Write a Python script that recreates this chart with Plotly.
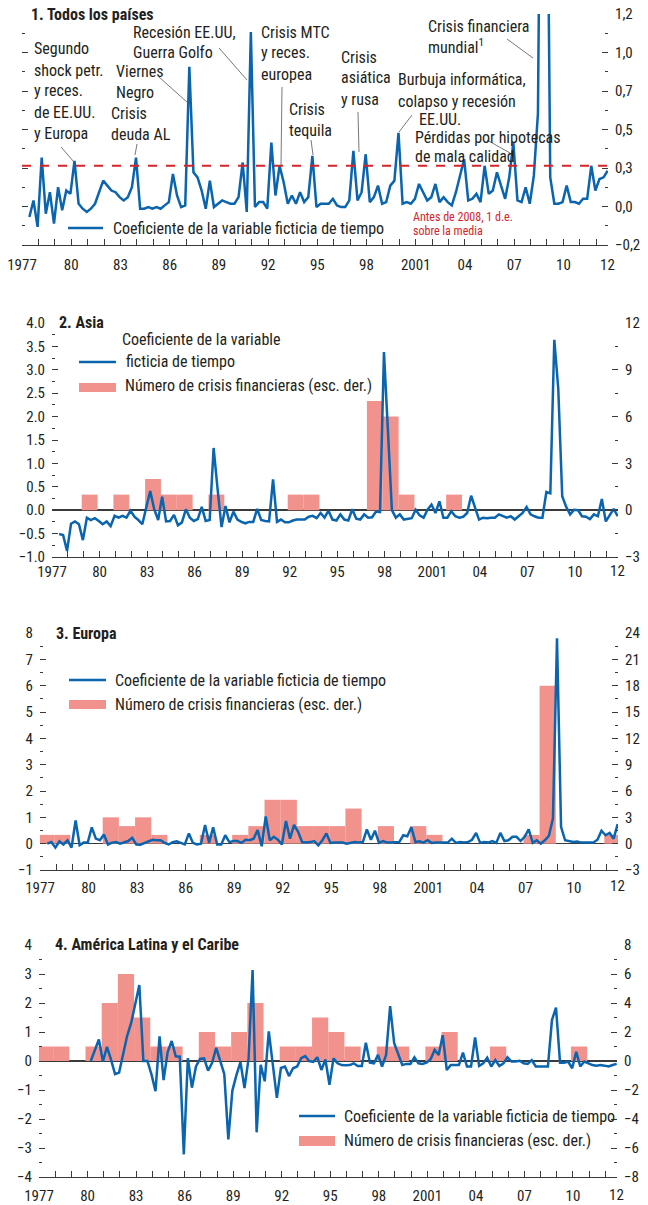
import numpy as np
import plotly.graph_objects as go

W, H = 648, 1205
def px(x): return x / W
def py(y): return 1 - y / H

FONT = "Liberation Sans Narrow, Arial Narrow, Roboto Condensed, DejaVu Sans Condensed, sans-serif"
BLUE = "#0A64AE"
PINK = "#F2928D"
RED = "#D6242B"
GRAY = "#3A3A3A"
TXT = "#231F20"
FS = 16

# ---------------- data (quarterly, first obs ~1977 Q2) ----------------
todos = [-0.03, 0.07, -0.09, 0.33, -0.01, 0.12, -0.07, 0.15, 0.01, 0.13, 0.11, 0.31, 0.05, 0.02, 0.00, 0.02,
         0.05, 0.12, 0.19, 0.16, 0.13, 0.12, 0.09, 0.07, 0.09, 0.15, 0.33, 0.02, 0.02, 0.03, 0.02, 0.03,
         0.02, 0.04, 0.06, 0.23, 0.10, 0.03, 0.04, 0.88, 0.24, 0.21, 0.13, 0.02, 0.19, 0.03, 0.05, 0.07,
         0.06, 0.05, 0.05, 0.09, 0.30, 0.00, 1.09, 0.03, 0.06, 0.06, 0.02, 0.42, 0.10, 0.28, 0.18, 0.05,
         0.10, 0.05, 0.12, 0.06, 0.09, 0.34, 0.03, 0.05, 0.05, 0.05, 0.08, 0.04, 0.03, 0.03, 0.07, 0.37,
         0.07, 0.12, 0.35, 0.06, 0.09, 0.16, 0.05, 0.06, 0.16, 0.19, 0.48, 0.05, 0.06, 0.05, 0.08, 0.17,
         0.12, 0.07, 0.09, 0.17, 0.06, 0.09, 0.06, 0.04, 0.12, 0.22, 0.32, 0.07, 0.08, 0.11, 0.06, 0.28,
         0.11, 0.13, 0.24, 0.16, 0.08, 0.21, 0.42, 0.07, 0.06, 0.15, 0.05, 0.22, 0.60, 3.50, 3.00, 0.21,
         0.05, 0.05, 0.06, 0.16, 0.06, 0.06, 0.05, 0.08, 0.08, 0.28, 0.13, 0.20, 0.21, 0.25]
umbral = 0.28  # antes de 2008, 1 d.e. sobre la media

asia = [-0.51, -0.53, -0.87, -0.29, -0.24, -0.30, -0.64, -0.16, -0.21, -0.17, -0.23, -0.30, -0.24, -0.34, -0.12, -0.16,
        -0.12, -0.16, -0.01, -0.14, -0.21, -0.30, 0.06, 0.41, 0.02, -0.21, 0.29, -0.24, -0.23, -0.10, -0.32, -0.26,
        0.02, -0.16, -0.23, -0.19, 0.07, -0.23, -0.21, 1.33, 0.45, -0.36, 0.09, -0.26, -0.03, -0.20, -0.25, -0.28,
        -0.25, -0.25, 0.03, -0.21, -0.23, -0.24, 0.66, -0.25, -0.20, -0.26, -0.26, -0.22, -0.20, -0.20, -0.20, -0.14,
        -0.12, -0.17, -0.06, -0.16, -0.01, -0.20, -0.22, -0.09, -0.20, -0.22, 0.02, -0.18, -0.20, -0.09, -0.16, -0.15,
        -0.03, -0.04, 3.38, 1.70, 0.00, -0.16, -0.09, -0.20, -0.19, -0.17, 0.01, -0.11, -0.16, 0.01, 0.12, -0.06,
        0.19, -0.16, -0.16, -0.02, -0.13, -0.16, -0.14, -0.06, 0.31, 0.05, -0.20, -0.16, -0.17, -0.16, -0.16, -0.09,
        -0.13, -0.16, -0.13, -0.20, -0.13, -0.06, 0.07, -0.09, -0.13, -0.16, -0.16, 0.39, 0.36, 3.64, 2.60, 0.30,
        0.07, -0.09, 0.01, 0.00, -0.13, -0.14, -0.19, -0.09, -0.13, 0.24, -0.24, -0.09, 0.03, -0.13]
asia_years = [1979, 1981, 1983, 1984, 1985, 1987, 1992, 1993, 1997, 1998, 1999, 2002]
asia_crisis = [1, 1, 2, 1, 1, 1, 1, 1, 7, 6, 1, 1]

europa = [0.00, 0.06, -0.15, 0.09, -0.03, 0.13, -0.15, 0.88, -0.06, 0.04, 0.04, 0.62, 0.19, 0.13, 0.35, -0.03,
          0.04, 0.06, 0.00, 0.06, 0.10, 0.22, -0.03, -0.04, 0.03, 0.10, 0.15, 0.13, 0.13, 0.03, -0.03, 0.06,
          0.09, 0.03, -0.03, 0.39, 0.03, -0.03, 0.00, 0.71, 0.04, 0.62, -0.03, -0.03, 0.32, 0.06, 0.10, 0.10,
          0.03, 0.15, 0.13, 0.19, 0.52, -0.10, 1.03, 0.13, 0.26, 0.15, -0.03, 0.86, 0.19, 0.71, 0.45, 0.06,
          0.04, 0.06, 0.10, -0.06, 0.13, 0.39, 0.03, 0.04, 0.04, 0.04, 0.00, 0.04, 0.06, 0.04, 0.06, 0.54,
          0.15, 0.49, 0.03, 0.10, 0.04, 0.04, 0.04, 0.06, 0.32, 0.28, 0.62, 0.06, 0.09, 0.04, 0.13, 0.03,
          0.04, 0.04, 0.04, 0.04, 0.19, 0.03, 0.06, 0.04, 0.06, 0.15, 0.41, 0.03, 0.06, 0.04, 0.10, 0.03,
          0.41, 0.10, 0.13, 0.26, 0.26, 0.10, 0.26, 0.54, 0.03, 0.13, 0.00, 0.13, 0.30, 0.95, 7.80, 0.64,
          0.13, 0.10, 0.06, 0.08, 0.04, 0.04, 0.04, 0.04, 0.15, 0.49, 0.32, 0.41, 0.19, 0.74]
europa_years = [1977, 1978, 1981, 1982, 1983, 1984, 1987, 1989, 1990, 1991, 1992, 1993, 1994, 1995, 1996,
                1998, 2000, 2001, 2007, 2008, 2012]
europa_crisis = [1, 1, 3, 2, 3, 1, 1, 1, 2, 5, 5, 2, 2, 2, 4, 2, 2, 1, 1, 18, 1]

latam = [None] * 11 + [
         0.00, 0.38, 0.74, -0.02, 0.49, 0.05, -0.45, -0.40, 0.21, 0.87, 1.32, 2.00, 2.62, 0.00, 0.00,
         -0.46, -1.04, 0.85, -0.66, 0.31, 0.69, 0.16, 0.15, -3.22, 0.10, -0.92, -0.19, 0.07, 0.09, -0.33, -0.06,
         0.45, -0.03, -0.45, -2.70, -1.02, -0.49, -0.04, -0.93, 0.08, 3.14, -2.46, -0.13, -0.70, 1.02, -0.06, -1.27,
         -0.24, -0.19, -0.52, -0.25, -0.19, 0.10, 0.17, 0.00, -0.03, 0.13, -0.31, 0.05, -0.82, 0.09, -0.08, -0.14,
         -0.15, -0.14, -0.08, -0.17, -0.17, 0.63, -0.06, -0.08, 0.21, -0.19, 0.21, 1.89, 0.61, 0.26, -0.14, -0.10,
         -0.10, 0.13, -0.08, -0.10, -0.06, 0.06, 0.38, 0.21, 0.89, -0.31, -0.14, -0.14, -0.14, 0.29, -0.19, -0.19,
         0.81, -0.17, -0.08, 0.11, -0.19, 0.03, -0.17, -0.08, 0.13, -0.02, -0.02, 0.01, -0.08, -0.10, 0.03, -0.19,
         -0.19, -0.17, -0.19, 1.41, 1.84, -0.06, -0.06, -0.02, -0.25, 0.32, -0.19, -0.02, -0.08, -0.14, -0.16, -0.14,
         -0.16, -0.19, -0.14, -0.10]
latam_years = [1977, 1978, 1980, 1981, 1982, 1983, 1984, 1985, 1987, 1988, 1989, 1990, 1992, 1993, 1994,
               1995, 1996, 1998, 1999, 2001, 2002, 2005, 2010]
latam_crisis = [1, 1, 1, 4, 6, 3, 1, 1, 2, 1, 2, 4, 1, 1, 3, 2, 1, 1, 1, 1, 2, 1, 1]

x_labels_vals = [1977, 1980, 1983, 1986, 1989, 1992, 1995, 1998, 2001, 2004, 2007, 2010]
x_labels_text = ["1977", "80", "83", "86", "89", "92", "95", "98", "2001", "04", "07", "10"]
last_label = "12"

n = len(todos)
t = 1977.45 + 0.25 * np.arange(n)          # quarterly time positions
XR = [1977, 2012.72]

def bx(years):
    return [y + 0.375 for y in years]

fig = go.Figure()

# ---------------- traces ----------------
fig.add_trace(go.Scatter(x=t, y=todos, mode="lines", line=dict(color=BLUE, width=2.5),
                         xaxis="x", yaxis="y", showlegend=False))
fig.add_trace(go.Scatter(x=XR, y=[umbral, umbral], mode="lines",
                         line=dict(color=RED, width=2, dash="dash"),
                         xaxis="x", yaxis="y2", showlegend=False))

for (yrs, vals, line, xa, ymain, yover) in [
        (asia_years, asia_crisis, asia, "x2", "y3", "y4"),
        (europa_years, europa_crisis, europa, "x3", "y5", "y6"),
        (latam_years, latam_crisis, latam, "x4", "y7", "y8")]:
    fig.add_trace(go.Bar(x=bx(yrs), y=vals, width=1.0, marker=dict(color=PINK, line=dict(width=0)),
                         xaxis=xa, yaxis=ymain, showlegend=False))
    fig.add_trace(go.Scatter(x=t, y=line, mode="lines", line=dict(color=BLUE, width=2.5),
                             xaxis=xa, yaxis=yover, showlegend=False, connectgaps=False))

# ---------------- axes ----------------
tickfont = dict(family=FONT, size=15, color=TXT)

def xaxis(dom, anchor, standoff):
    return dict(domain=[px(dom[0]), px(dom[1])], range=XR, anchor=anchor, automargin=False,
                showline=True, linecolor=GRAY, linewidth=1, showgrid=False, zeroline=False,
                ticks="inside", ticklen=6, tickwidth=1, tickcolor=GRAY,
                tickvals=x_labels_vals, ticktext=x_labels_text, tickfont=tickfont,
                ticklabelstandoff=standoff,
                minor=dict(ticks="inside", ticklen=6, tickwidth=1, tickcolor=GRAY, dtick=1, tick0=1977))

def yaxis(dom, rng, vals, text, side, minor_vals, overlay=None, anchor=None, labels=True, zeroline=False):
    d = dict(domain=[py(dom[1]), py(dom[0])], range=rng, side=side, anchor=anchor, automargin=False,
             showline=False, showgrid=False, zeroline=zeroline, zerolinecolor=GRAY, zerolinewidth=1.5,
             ticks="inside", ticklen=6, tickwidth=1, tickcolor=GRAY,
             tickvals=vals, ticktext=text, showticklabels=labels, tickfont=tickfont,
             ticklabelstandoff=6,
             minor=dict(ticks="inside", ticklen=3, tickwidth=1, tickcolor=GRAY, tickvals=minor_vals))
    if overlay:
        d["overlaying"] = overlay
    return d

def mid(vals):
    return [(a + b) / 2 for a, b in zip(vals[:-1], vals[1:])]

# Panel 1
p1_vals = [-0.2 + k * 1.4 / 6 for k in range(7)]
p1_text = ["−0,2", "0,0", "0,3", "0,5", "0,7", "1,0", "1,2"]
P1 = dict(x=(22, 608), y=(14, 245))
# Panel 2
p2_left = [-1 + 0.5 * k for k in range(11)]
p2_left_t = [("%.1f" % v).replace("-", "−") for v in p2_left]
p2_right = [-3, 0, 3, 6, 9, 12]
p2_right_t = ["−3", "0", "3", "6", "9", "12"]
P2 = dict(x=(52, 618), y=(323, 557))
# Panel 3
p3_left = list(range(-1, 9))
p3_left_t = [str(v).replace("-", "−") for v in p3_left]
p3_right = list(range(-3, 25, 3))
p3_right_t = [str(v).replace("-", "−") for v in p3_right]
P3 = dict(x=(40, 618), y=(633, 870))
# Panel 4
p4_left = list(range(-4, 5))
p4_left_t = [str(v).replace("-", "−") for v in p4_left]
p4_right = list(range(-8, 9, 2))
p4_right_t = [str(v).replace("-", "−") for v in p4_right]
P4 = dict(x=(39, 617), y=(945, 1177))

fig.update_layout(
    xaxis=xaxis(P1["x"], "y", 6),
    yaxis=yaxis(P1["y"], [-0.2, 1.2], p1_vals, p1_text, "left", mid(p1_vals), anchor="x", labels=False),
    yaxis2=yaxis(P1["y"], [-0.2, 1.2], p1_vals, p1_text, "right", mid(p1_vals), overlay="y", anchor="x"),

    xaxis2=xaxis(P2["x"], "y3", 1),
    yaxis3=yaxis(P2["y"], [-3, 12], p2_right, p2_right_t, "right", mid(p2_right), anchor="x2", zeroline=True),
    yaxis4=yaxis(P2["y"], [-1, 4], p2_left, p2_left_t, "left", mid(p2_left), overlay="y3", anchor="x2"),

    xaxis3=xaxis(P3["x"], "y5", 4),
    yaxis5=yaxis(P3["y"], [-3, 24], p3_right, p3_right_t, "right", mid(p3_right), anchor="x3", zeroline=True),
    yaxis6=yaxis(P3["y"], [-1, 8], p3_left, p3_left_t, "left", mid(p3_left), overlay="y5", anchor="x3"),

    xaxis4=xaxis(P4["x"], "y7", 5),
    yaxis7=yaxis(P4["y"], [-8, 8], p4_right, p4_right_t, "right", mid(p4_right), anchor="x4", zeroline=True),
    yaxis8=yaxis(P4["y"], [-4, 4], p4_left, p4_left_t, "left", mid(p4_left), overlay="y7", anchor="x4"),
)

# ---------------- text ----------------
ann = []
shapes = []

def text(s, x, y, size=FS, color=TXT, bold=False, xanchor="left"):
    ann.append(dict(text=("<b>%s</b>" % s) if bold else s, x=px(x), y=py(y), xref="paper", yref="paper",
                    xanchor=xanchor, yanchor="middle", showarrow=False, borderpad=0,
                    font=dict(family=FONT, size=size, color=color)))

def block(lines, x, y0, dy=21, **kw):
    for i, s in enumerate(lines):
        text(s, x, y0 + i * dy, **kw)

def seg(x0, y0, x1, y1, color="#555555", width=0.8):
    shapes.append(dict(type="line", xref="paper", yref="paper", x0=px(x0), y0=py(y0), x1=px(x1), y1=py(y1),
                       line=dict(color=color, width=width)))

def rect(x0, y0, x1, y1, color):
    shapes.append(dict(type="rect", xref="paper", yref="paper", x0=px(x0), y0=py(y0), x1=px(x1), y1=py(y1),
                       line=dict(width=0), fillcolor=color))

# last x label "12" at axis end
for xa, ylab in [("x", 265), ("x2", 571), ("x3", 886), ("x4", 1195)]:
    ann.append(dict(text=last_label, x=2012.7, y=py(ylab), xref=xa, yref="paper", xanchor="center",
                    yanchor="middle", showarrow=False, font=tickfont))

# Panel 1
text("1. Todos los países", 30, 15, bold=True)
block(["Segundo", "shock petr.", "y reces.", "de EE.UU.", "y Europa"], 33, 49)
seg(61, 147, 74, 162)
block(["Recesión EE.UU,", "Guerra Golfo"], 132, 32)
seg(219, 48, 247, 80)
block(["Viernes", "Negro"], 115, 71, dy=22)
seg(159, 77, 188, 103)
block(["Crisis", "deuda AL"], 110, 113)
seg(137, 144, 135, 155)
block(["Crisis MTC", "y reces.", "europea"], 260, 32)
seg(282, 87, 281, 166)
block(["Crisis", "tequila"], 288, 109)
seg(311, 140, 313, 155)
block(["Crisis", "asiática", "y rusa"], 340, 57)
seg(358, 112, 359, 152)
block(["Burbuja informática,", "colapso y recesión"], 397, 80)
text("EE.UU.", 418, 120)
seg(412, 115, 399, 132)
block(["Pérdidas por hipotecas", "de mala calidad"], 414, 137, dy=20)
seg(487, 140, 510, 153)
block(["Crisis financiera", "mundial<sup>1</sup>"], 427, 26)
seg(507, 39, 533, 58)
block(["Antes de 2008, 1 d.e.", "sobre la media"], 412, 217, dy=14, size=12, color=RED)
seg(68, 228, 103, 228, color=BLUE, width=2.5)
text("Coeficiente de la variable ficticia de tiempo", 112, 228)

# Panel 2
text("2. Asia", 58, 323, bold=True)
text("Coeficiente de la variable", 121, 339)
text("ficticia de tiempo", 125, 361)
seg(79, 362, 116, 362, color=BLUE, width=2.5)
rect(79, 383, 116, 392, PINK)
text("Número de crisis financieras (esc. der.)", 124, 386)

# Panel 3
text("3. Europa", 55, 633, bold=True)
seg(69, 680, 106, 680, color=BLUE, width=2.5)
text("Coeficiente de la variable ficticia de tiempo", 114, 680)
rect(69, 700, 106, 709, PINK)
text("Número de crisis financieras (esc. der.)", 114, 704)

# Panel 4
text("4. América Latina y el Caribe", 54, 944, bold=True)
seg(299, 1116, 335, 1116, color=BLUE, width=2.5)
text("Coeficiente de la variable ficticia de tiempo", 343, 1116)
rect(299, 1136, 335, 1146, PINK)
text("Número de crisis financieras (esc. der.)", 343, 1140)

fig.update_layout(
    width=W, height=H, margin=dict(l=0, r=0, t=0, b=0, autoexpand=False),
    paper_bgcolor="white", plot_bgcolor="white",
    annotations=ann, shapes=shapes, barmode="overlay", showlegend=False,
    font=dict(family=FONT, size=FS, color=TXT),
)

fig.write_html("out.html", config={"displayModeBar": False, "staticPlot": True},
               post_script="document.body.style.margin='0';document.body.style.overflow='hidden';")
